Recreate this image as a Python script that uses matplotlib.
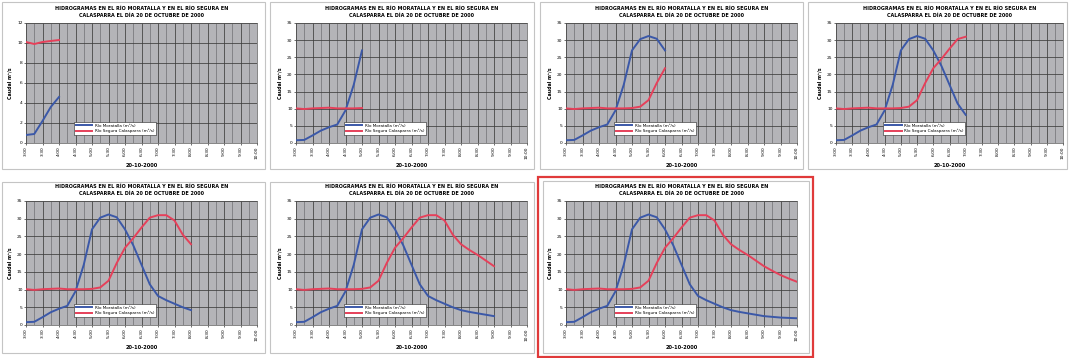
import matplotlib

matplotlib.use("Agg")

import matplotlib.pyplot as plt
from matplotlib.patches import Rectangle
from matplotlib.ticker import MultipleLocator

W, H = 1069, 358

# 15-minute steps, 20-10-2000
TIMES = [
    "3:00", "3:15", "3:30", "3:45", "4:00", "4:15", "4:30", "4:45",
    "5:00", "5:15", "5:30", "5:45", "6:00", "6:15", "6:30", "6:45",
    "7:00", "7:15", "7:30", "7:45", "8:00", "8:15", "8:30", "8:45",
    "9:00", "9:15", "9:30", "9:45", "10:00",
]
MORATALLA = [
    0.8, 0.9, 2.2, 3.6, 4.6, 5.4, 9.5, 17.0, 27.0, 30.3, 31.2, 30.4, 27.0, 22.5, 17.0,
    11.5, 8.2, 7.0, 6.0, 5.0, 4.2, 3.7, 3.3, 2.9, 2.5, 2.3, 2.1, 2.0, 1.9,
]
SEGURA = [
    10.1, 9.9, 10.1, 10.2, 10.3, 10.1, 10.1, 10.1, 10.2, 10.6, 12.5, 17.5, 21.8, 24.5, 27.5,
    30.3, 31.0, 31.0, 29.5, 25.5, 22.8, 21.2, 19.8, 18.2, 16.6, 15.3, 14.1, 13.1, 12.2,
]
SERIES_NAMES = ["Río Moratalla (m³/s)", "Río Segura Calasparra (m³/s)"]
FRAME_END = [4, 8, 12, 16, 20, 24, 28]
Y_MAX = [12, 35, 35, 35, 35, 35, 35]
Y_STEP = [2, 5, 5, 5, 5, 5, 5]

TITLE = ("HIDROGRAMAS EN EL RÍO MORATALLA Y EN EL RÍO SEGURA EN\n"
         "CALASPARRA EL DÍA 20 DE OCTUBRE DE 2000")
XLABEL = "20-10-2000"
YLABEL = "Caudal m³/s"

BLUE = "#3b58a8"
RED = "#e6405a"
PLOT_BG = "#b4b4b8"
GRID = "#3c3c3c"
GRID_MINOR = "#5e5e62"
FRAME = "#c4c4c4"

# layout in pixels (x0, y0, x1, y1), y from top
PLOT_BOXES = [
    (26, 23, 257, 143), (296, 23, 527, 143), (566, 23, 797, 143), (836, 23, 1063, 143),
    (26, 201, 257, 325), (296, 201, 527, 325), (566, 201, 797, 325),
]
PANEL_BOXES = [
    (2, 2, 265, 169), (270, 2, 534, 169), (540, 2, 803, 169), (808, 2, 1067, 169),
    (2, 182, 265, 353), (270, 182, 534, 353), (543, 181, 809, 353),
]
HIGHLIGHT = (538, 177, 813, 357)


def fig_rect(box):
    x0, y0, x1, y1 = box
    return [x0 / W, 1 - y1 / H, (x1 - x0) / W, (y1 - y0) / H]


def frame(fig, box, color, lw):
    x0, y0, w, h = fig_rect(box)
    fig.patches.append(
        Rectangle((x0, y0), w, h, transform=fig.transFigure, fill=False,
                  edgecolor=color, linewidth=lw, zorder=0)
    )


def chart(fig, i):
    x0, y0, x1, y1 = PLOT_BOXES[i]
    ax = fig.add_axes(fig_rect(PLOT_BOXES[i]))
    ax.set_facecolor(PLOT_BG)
    n = FRAME_END[i] + 1
    steps = list(range(n))
    ax.plot(steps, MORATALLA[:n], color=BLUE, lw=1.4, label=SERIES_NAMES[0], zorder=3)
    ax.plot(steps, SEGURA[:n], color=RED, lw=1.4, label=SERIES_NAMES[1], zorder=3)

    ax.set_xlim(0, len(TIMES) - 1)
    ax.set_ylim(0, Y_MAX[i])
    ax.set_xticks(range(0, len(TIMES), 2))
    ax.set_xticklabels(TIMES[::2], rotation=90)
    ax.xaxis.set_minor_locator(MultipleLocator(1))
    ax.yaxis.set_major_locator(MultipleLocator(Y_STEP[i]))
    ax.grid(which="major", axis="both", color=GRID, lw=0.55)
    ax.grid(which="minor", axis="x", color=GRID_MINOR, lw=0.4)
    ax.set_axisbelow(True)
    ax.tick_params(labelsize=3.2, length=1.5, width=0.4, pad=1)
    ax.tick_params(which="minor", length=0)
    for s in ax.spines.values():
        s.set_linewidth(0.5)
        s.set_color("#555555")

    ax.set_ylabel(YLABEL, fontsize=3.4, fontweight="bold", labelpad=3)
    ax.set_xlabel(XLABEL, fontsize=3.6, fontweight="bold", labelpad=3)
    leg = ax.legend(loc="lower left", bbox_to_anchor=(0.2, 0.05), fontsize=3.0,
                    frameon=True, fancybox=False, handlelength=4.0,
                    borderpad=0.35, labelspacing=0.25, handletextpad=0.6)
    leg.get_frame().set_edgecolor("#222222")
    leg.get_frame().set_linewidth(0.4)
    leg.get_frame().set_alpha(1.0)

    fig.text(((x0 + x1) / 2) / W, 1 - (y0 - 11) / H, TITLE, ha="center", va="center",
             fontsize=3.5, fontweight="bold", linespacing=1.35)


def build():
    fig = plt.figure(figsize=(W / 100, H / 100), dpi=100)
    fig.patch.set_facecolor("white")
    for box in PANEL_BOXES:
        frame(fig, box, FRAME, 0.8)
    frame(fig, HIGHLIGHT, "#e03a3a", 1.6)
    for i in range(len(PLOT_BOXES)):
        chart(fig, i)
    fig.savefig("out.png", dpi=100)
    plt.close(fig)


if __name__ == "__main__":
    build()
